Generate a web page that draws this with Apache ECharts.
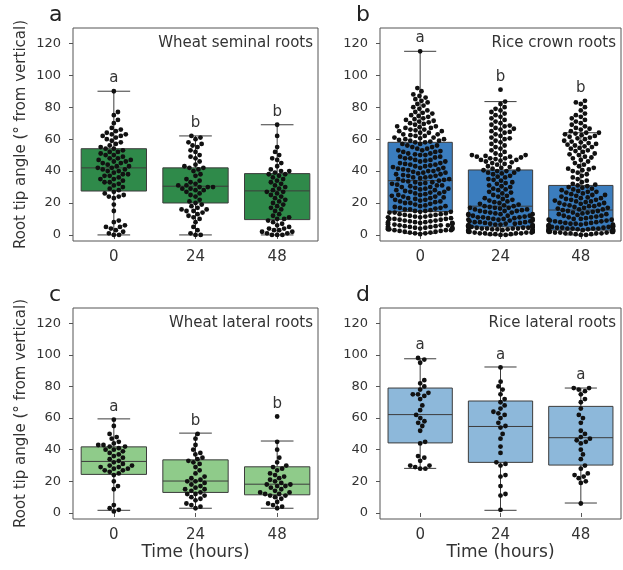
<!DOCTYPE html>
<html>
<head>
<meta charset="utf-8">
<script src="https://cdn.jsdelivr.net/npm/echarts@6/dist/echarts.min.js"></script>
<style>
html, body { margin: 0; padding: 0; background: #fff; }
#chart { width: 623px; height: 570px; }
</style>
</head>
<body>
<div id="chart"></div>
<script>
// time after treatment (hours)
var times = ['0', '24', '48'];
var yTicks = [0, 20, 40, 60, 80, 100, 120];

// root tip angles, one value per root (deg from vertical)
var wheatSem0 = [0, 0, 1, 2, 3, 4, 5, 5, 6, 8, 9, 15, 19, 23, 24, 24, 25, 26, 27, 28, 29, 30, 31, 32, 33, 33, 34, 35, 35, 36, 37, 37, 38, 38, 39, 40, 40, 41, 41, 42, 42, 43, 43, 44, 45, 45, 46, 46, 47, 47, 48, 48, 49, 50, 50, 51, 52, 52, 53, 54, 54, 55, 56, 57, 58, 59, 60, 61, 62, 62, 63, 63, 64, 65, 66, 67, 70, 72, 75, 77, 90];
var wheatSem24 = [0, 0, 1, 3, 5, 8, 10, 11, 12, 13, 14, 15, 15, 16, 16, 17, 18, 19, 20, 21, 22, 24, 25, 26, 27, 28, 28, 29, 29, 30, 30, 30, 31, 31, 32, 33, 34, 35, 37, 38, 40, 41, 42, 42, 43, 44, 46, 48, 49, 50, 52, 53, 55, 56, 57, 58, 60, 61, 62];
var wheatSem48 = [0, 0, 0, 1, 1, 2, 2, 3, 3, 4, 4, 5, 6, 7, 8, 9, 10, 10, 11, 12, 13, 15, 16, 17, 18, 19, 20, 21, 22, 23, 24, 25, 26, 27, 27, 28, 29, 30, 31, 32, 33, 34, 35, 36, 37, 38, 38, 39, 40, 40, 41, 43, 45, 47, 48, 50, 52, 55, 62, 69];

var riceCrown0 = [0.5, 1, 1, 1.5, 1.5, 2, 2, 2.5, 2.5, 3, 3, 3, 3.5, 3.5, 3.5, 4, 4, 4, 4.5, 4.5, 4.5, 5, 5, 5, 5,
  5.5, 5.5, 6, 6, 6, 6.5, 6.5, 7, 7, 7, 7.5, 7.5, 8, 8, 8, 8.5, 8.5, 9, 9, 9.5, 9.5,
  10, 10, 10, 10.5, 11, 11, 11.5, 11.5, 12, 12, 12.5, 12.5, 13, 13, 13.5, 14, 14, 14.5, 14.5, 15, 15, 15.5, 16, 16, 16.5, 17, 17, 17.5, 18, 18, 18.5, 19, 19.5,
  20, 20, 20.5, 21, 21, 21.5, 22, 22, 22.5, 23, 23, 23.5, 24, 24, 24.5, 25, 25, 25.5, 26, 26, 26.5, 27, 27, 27.5, 28, 28, 28.5, 29, 29, 29.5,
  30, 30, 30.5, 31, 31, 31.5, 32, 32, 32.5, 33, 33, 33.5, 34, 34, 34.5, 35, 35, 35.5, 36, 36, 36.5, 37, 37, 37.5, 38, 38, 38.5, 39, 39, 39.5,
  40, 40, 40.5, 41, 41, 41.5, 42, 42, 42.5, 43, 43, 43.5, 44, 44, 44.5, 45, 45, 46, 46, 46.5, 47, 47, 48, 48, 48.5, 49, 49, 50, 50, 50.5,
  51, 51, 52, 52, 52.5, 53, 53, 54, 54, 55, 55, 56, 56, 57, 57,
  58, 58, 58.5, 59, 59, 59.5, 60, 60, 60.5, 61, 61, 62, 62, 62.5, 63, 63, 64, 64, 65, 65, 65.5, 66, 66, 67, 67, 67.5, 68, 68, 69, 69.5,
  70, 70.5, 71, 71.5, 72, 72.5, 73, 74, 74.5, 75, 76, 76.5, 77, 78, 79,
  80, 81, 82, 83, 84, 85, 86, 87, 88, 90, 92, 115];
var riceCrown24 = [0, 0, 0.5, 0.5, 0.5, 1, 1, 1, 1, 1.5, 1.5, 1.5, 2, 2, 2, 2, 2.5, 2.5, 2.5, 3, 3, 3, 3, 3.5, 3.5, 3.5, 4, 4, 4, 4, 4.5, 4.5, 4.5,
  5, 5, 5, 5, 5.5, 5.5, 5.5, 6, 6, 6, 6, 6.5, 6.5, 7, 7, 7, 7.5, 7.5, 8, 8, 8, 8.5, 8.5, 9, 9, 9.5, 9.5,
  10, 10, 10, 10.5, 10.5, 11, 11, 11, 11.5, 12, 12, 12, 12.5, 13, 13, 13, 13.5, 14, 14, 14.5, 15, 15, 15, 15.5, 16, 16, 16.5, 17, 17, 17, 17.5, 18, 18, 18.5, 19, 19.5,
  20, 20.5, 21, 21.5, 22, 22.5, 23, 24, 24.5, 25, 26, 26.5, 27, 28, 28.5, 29, 30, 30.5, 31, 32, 32.5, 33, 34, 34.5, 35, 36, 36.5, 37, 38, 38.5, 39, 39, 40, 40,
  40.5, 41, 41.5, 42, 42.5, 43, 44, 44.5, 45, 45.5, 46, 46.5, 47, 47, 47.5, 48, 48, 48.5, 49, 49, 49.5, 50, 50, 50,
  51, 52, 53, 54, 55, 56, 57, 58, 59, 60, 60.5, 61, 62, 63, 64, 64.5, 65, 66, 66.5, 67, 68, 68.5, 69, 70,
  71, 72, 73, 74, 75, 76, 77, 78, 79, 80, 82, 83.5, 91];
var riceCrown48 = [0, 0, 0.5, 0.5, 1, 1, 1, 1, 1.5, 1.5, 1.5, 2, 2, 2, 2, 2, 2.5, 2.5, 2.5, 3, 3, 3, 3, 3, 3.5, 3.5, 3.5, 4, 4, 4, 4, 4, 4.5, 4.5, 4.5,
  5, 5, 5, 5, 5.5, 5.5, 5.5, 6, 6, 6, 6.5, 6.5, 7, 7, 7, 7.5, 7.5, 8, 8, 8.5, 8.5, 9, 9, 9.5, 9.5,
  10, 10, 10.5, 11, 11, 11.5, 12, 12, 12.5, 13, 13, 13.5, 14, 14, 14.5, 15, 15, 15.5, 16, 16, 16.5, 17, 17, 17.5, 18, 18, 18.5, 19, 19, 19.5,
  20, 20, 20.5, 21, 21, 21.5, 22, 22, 22.5, 23, 23, 23.5, 24, 24.5, 25, 25, 25.5, 26, 26.5, 27, 27, 27.5, 28, 28.5, 29, 29.5, 30, 30.5, 31, 31.5,
  32, 33, 34, 35, 36, 37, 38, 39, 40, 40.5, 41, 41.5, 42, 43, 44, 45,
  46, 47, 48, 48.5, 49, 50, 50.5, 51, 52, 52.5, 53, 54, 54.5, 55, 55.5, 56, 56.5, 57, 57.5, 58, 58.5, 59, 60, 60.5, 61, 61.5, 62, 62.5, 63, 63.5, 64, 64,
  65, 66, 66.5, 67, 68, 69, 70, 71, 72, 73, 74, 75, 76, 78, 80, 82, 83, 84];

var wheatLat0 = [1, 2, 3, 5, 15, 17, 20, 24, 25, 26, 27, 27, 28, 28, 29, 29, 30, 30, 31, 32, 33, 34, 35, 36, 37, 38, 39, 40, 40, 41, 42, 42, 43, 43, 44, 45, 47, 48, 50, 55, 59];
var wheatLat24 = [3, 4, 5, 6, 8, 9, 10, 11, 12, 12, 13, 14, 15, 15, 16, 17, 18, 19, 20, 20, 21, 22, 23, 25, 27, 29, 31, 32, 33, 34, 35, 37, 38, 40, 43, 47, 50];
var wheatLat48 = [3, 4, 5, 6, 7, 9, 10, 11, 11, 12, 12, 13, 13, 14, 15, 16, 17, 17, 18, 18, 19, 20, 21, 22, 23, 24, 25, 27, 28, 29, 30, 32, 35, 40, 45, 61];

var riceLat0 = [28, 28, 29, 30, 30, 33, 35, 36, 44, 45, 52, 55, 57, 58, 60, 62, 65, 68, 72, 74, 75, 75, 76, 78, 80, 82, 84, 95, 97, 98];
var riceLat24 = [2, 11, 12, 17, 23, 24, 30, 31, 32, 38, 42, 47, 50, 54, 55, 57, 60, 62, 63, 64, 66, 68, 70, 72, 75, 78, 80, 83, 92];
var riceLat48 = [6, 19, 20, 22, 23, 24, 25, 28, 30, 34, 37, 40, 44, 45, 46, 47, 48, 50, 52, 57, 60, 62, 66, 70, 72, 75, 77, 78, 79, 79];

// box stats: [lower whisker, q1, median, q3, upper whisker]
var wheatSemBox = [[0, 27.5, 42, 54, 90], [0, 20, 30.5, 42, 62], [0, 9.6, 27.6, 38.4, 69]];
var riceCrownBox = [[1, 14.6, 34, 58, 115], [0, 5, 18, 40.7, 83.5], [0, 3, 15.6, 31, 64]];
var wheatLatBox = [[1.7, 24.4, 32.6, 41.8, 59.5], [3, 13, 20.2, 33.6, 50.5], [3, 11.5, 18.2, 29.2, 45.5]];
var riceLatBox = [[28.2, 44.3, 62.2, 79, 97.5], [1.7, 32, 54.7, 70.8, 92.3], [6.3, 30.3, 47.6, 67.4, 79]];

// significance letters
var wheatSemLetters = ['a', 'b', 'b'];
var riceCrownLetters = ['a', 'b', 'b'];
var wheatLatLetters = ['a', 'b', 'b'];
var riceLatLetters = ['a', 'a', 'a'];

var panels = [
  { tag: 'a', name: 'Wheat seminal roots', color: '#2f8a4a', groups: [wheatSem0, wheatSem24, wheatSem48], box: wheatSemBox, letters: wheatSemLetters },
  { tag: 'b', name: 'Rice crown roots', color: '#3b7dbe', groups: [riceCrown0, riceCrown24, riceCrown48], box: riceCrownBox, letters: riceCrownLetters },
  { tag: 'c', name: 'Wheat lateral roots', color: '#8fcb8a', groups: [wheatLat0, wheatLat24, wheatLat48], box: wheatLatBox, letters: wheatLatLetters },
  { tag: 'd', name: 'Rice lateral roots', color: '#8db8da', groups: [riceLat0, riceLat24, riceLat48], box: riceLatBox, letters: riceLatLetters }
];

var grids = [
  { left: 73, top: 28, width: 245, height: 213 },
  { left: 380, top: 28, width: 241, height: 213 },
  { left: 73, top: 308, width: 245, height: 211 },
  { left: 380, top: 308, width: 241, height: 211 }
];
var tagPos = [[49, 4], [356, 4], [49, 284], [356, 284]];

var FONT = 'DejaVu Sans';
var TXT = '#333';
var LINE = '#3c3c3c';

// beeswarm layout in pixels (like seaborn's swarmplot)
function swarm(ys, r, limit) {
  var idx = ys.map(function (y, i) { return i; });
  idx.sort(function (a, b) { return ys[b] - ys[a]; });
  var placed = [], out = new Array(ys.length), d2 = 4 * r * r;
  idx.forEach(function (i) {
    var y = ys[i];
    var near = placed.filter(function (p) { return Math.abs(p.y - y) < 2 * r; });
    var cands = [0];
    near.forEach(function (p) {
      var dx = Math.sqrt(d2 - (p.y - y) * (p.y - y));
      cands.push(p.x + dx, p.x - dx);
    });
    cands.sort(function (a, b) { return Math.abs(a) - Math.abs(b); });
    var x = 0;
    for (var k = 0; k < cands.length; k++) {
      var c = cands[k];
      var ok = near.every(function (p) { return (p.x - c) * (p.x - c) + (p.y - y) * (p.y - y) >= d2 - 0.01; });
      if (ok) { x = c; break; }
    }
    placed.push({ x: x, y: y });
    out[i] = Math.max(-limit, Math.min(limit, x));
  });
  return out;
}

var option = {
  animation: false,
  backgroundColor: '#fff',
  textStyle: { fontFamily: FONT },
  grid: [], xAxis: [], yAxis: [], series: [], graphic: []
};

panels.forEach(function (p, k) {
  var g = grids[k];
  option.grid.push(Object.assign({ show: true, borderColor: '#555', borderWidth: 1, containLabel: false }, g));
  option.xAxis.push({
    type: 'category', gridIndex: k, data: times, boundaryGap: true,
    name: k >= 2 ? 'Time (hours)' : '', nameLocation: 'middle', nameGap: 25,
    nameTextStyle: { color: TXT, fontSize: 17, fontFamily: FONT },
    axisLine: { show: false },
    axisTick: { show: true, alignWithLabel: true, length: 4, lineStyle: { color: '#555' } },
    axisLabel: { color: TXT, fontSize: 15, fontFamily: FONT, margin: 9 },
    splitLine: { show: false }
  });
  option.yAxis.push({
    type: 'value', gridIndex: k, min: -3.8, max: 129.6,
    name: (k % 2 === 0) ? 'Root tip angle (\u00b0 from vertical)' : '', nameLocation: 'middle', nameGap: 44,
    nameTextStyle: { color: TXT, fontSize: 15, fontFamily: FONT },
    axisLine: { show: false },
    axisTick: { show: true, length: 4, customValues: yTicks, lineStyle: { color: '#555' } },
    axisLabel: { color: TXT, fontSize: 13, fontFamily: FONT, margin: 12, customValues: yTicks },
    splitLine: { show: false }
  });

  // boxes, whiskers, caps, medians
  option.series.push({
    type: 'custom', xAxisIndex: k, yAxisIndex: k, z: 2,
    data: p.box.map(function (b, i) { return [i].concat(b); }),
    encode: { x: 0, y: [1, 2, 3, 4, 5] },
    renderItem: function (params, api) {
      var i = api.value(0);
      var lo = api.value(1), q1 = api.value(2), md = api.value(3), q3 = api.value(4), hi = api.value(5);
      var bw = api.size([1, 0])[0] * 0.8;
      var cx = api.coord([i, 0])[0];
      var Y = function (v) { return api.coord([i, v])[1]; };
      var ls = { stroke: LINE, lineWidth: 1 };
      return {
        type: 'group',
        children: [
          { type: 'line', shape: { x1: cx, y1: Y(q3), x2: cx, y2: Y(hi) }, style: ls },
          { type: 'line', shape: { x1: cx, y1: Y(q1), x2: cx, y2: Y(lo) }, style: ls },
          { type: 'line', shape: { x1: cx - bw / 4, y1: Y(hi), x2: cx + bw / 4, y2: Y(hi) }, style: ls },
          { type: 'line', shape: { x1: cx - bw / 4, y1: Y(lo), x2: cx + bw / 4, y2: Y(lo) }, style: ls },
          { type: 'rect', shape: { x: cx - bw / 2, y: Y(q3), width: bw, height: Y(q1) - Y(q3) }, style: { fill: p.color, stroke: LINE, lineWidth: 1 } },
          { type: 'line', shape: { x1: cx - bw / 2, y1: Y(md), x2: cx + bw / 2, y2: Y(md) }, style: ls }
        ]
      };
    }
  });

  // swarm points
  option.series.push({
    type: 'custom', xAxisIndex: k, yAxisIndex: k, z: 3,
    data: p.groups.map(function (vals, i) { return [i, Math.max.apply(null, vals)]; }),
    encode: { x: 0, y: 1 },
    renderItem: function (params, api) {
      var i = params.dataIndex;
      var vals = p.groups[i];
      var bw = api.size([1, 0])[0] * 0.8;
      var cx = api.coord([i, 0])[0];
      var ys = vals.map(function (v) { return api.coord([i, v])[1]; });
      var off = swarm(ys, 2.6, bw / 2);
      var kids = ys.map(function (y, j) {
        return { type: 'circle', shape: { cx: cx + off[j], cy: y, r: 2.4 }, style: { fill: '#111' } };
      });
      // letter above the highest point
      kids.push({
        type: 'text',
        style: { text: p.letters[i], x: cx, y: api.coord([i, api.value(1) + 8])[1], align: 'center', verticalAlign: 'middle', fill: TXT, font: '15px "DejaVu Sans"' }
      });
      return { type: 'group', children: kids };
    }
  });

  // panel name, top right inside the frame
  option.graphic.push({
    type: 'text', right: 623 - (g.left + g.width - 5), top: g.top + 8,
    style: { text: p.name, fill: TXT, font: '15px "DejaVu Sans"' }
  });
  // panel tag
  option.graphic.push({
    type: 'text', left: tagPos[k][0], top: tagPos[k][1],
    style: { text: p.tag, fill: '#222', font: '22px "DejaVu Sans"' }
  });
});

var chart = echarts.init(document.getElementById('chart'), null, { renderer: 'canvas' });
chart.setOption(option);
</script>
</body>
</html>
